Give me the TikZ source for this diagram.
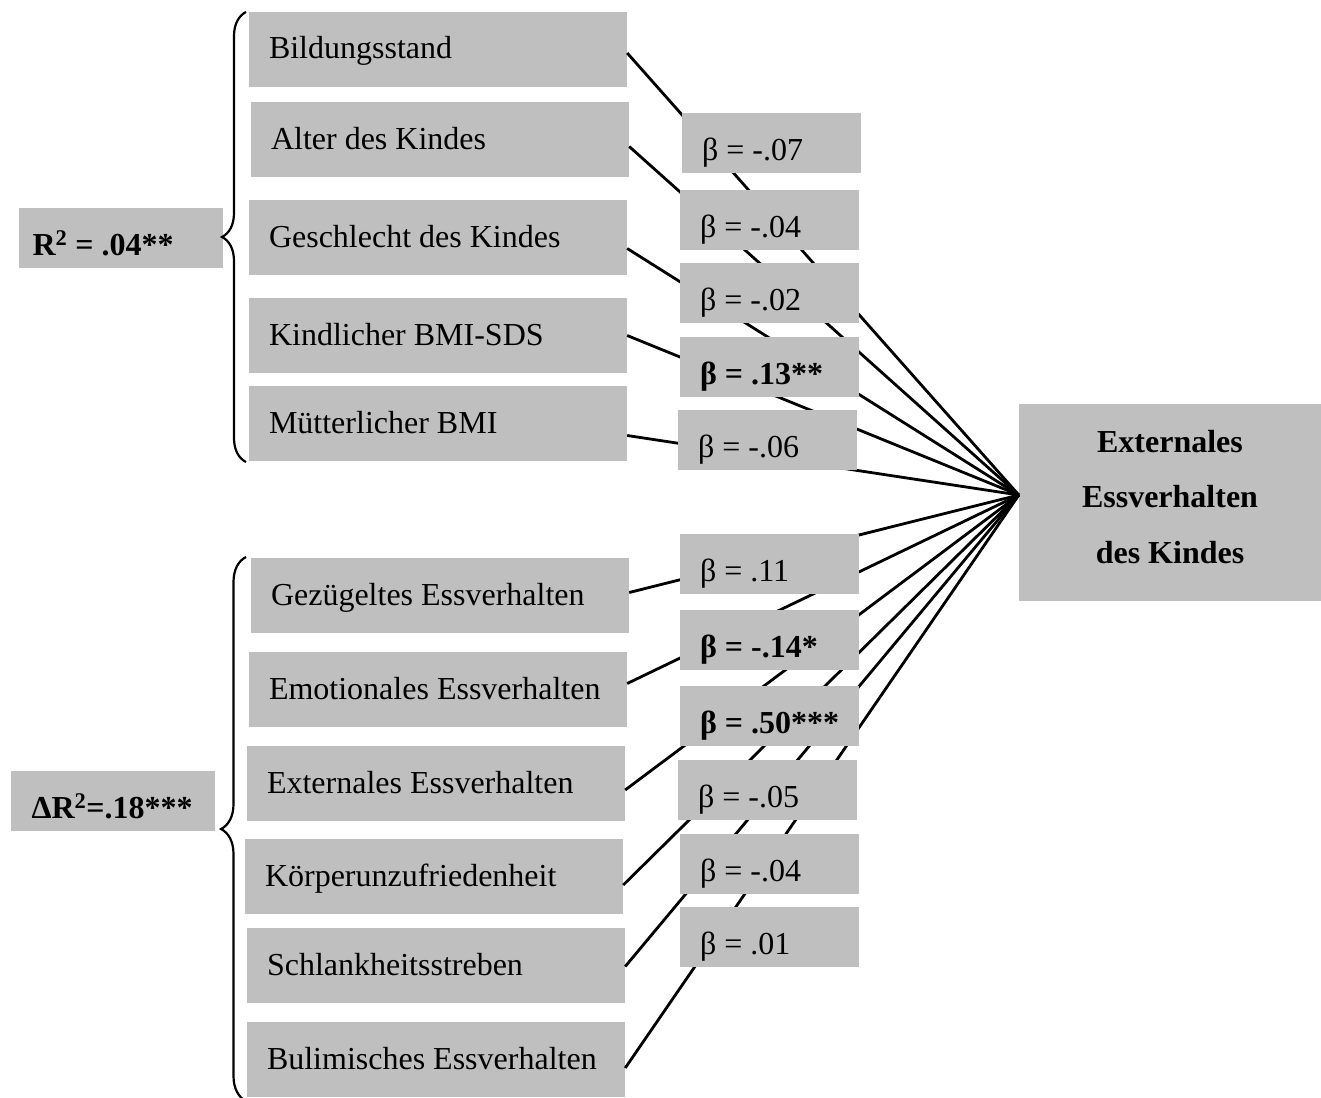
\documentclass[tikz,border=0pt]{standalone}
\usepackage{fontspec}
\setmainfont{Liberation Serif}
\usetikzlibrary{decorations.pathreplacing}
\definecolor{boxgray}{RGB}{191,191,191}
\begin{document}
\begin{tikzpicture}[x=1pt,y=-1pt,
  natural spaces/.style={execute at begin node={\spaceskip=0pt\xspaceskip=0pt}},
  box/.style={fill=boxgray, inner sep=0pt, font=\fontsize{32}{38}\selectfont, align=left, natural spaces},
  predbox/.style={box, minimum width=378pt, minimum height=75pt, text width=338pt, text height=26pt, text depth=7pt},
  betabox/.style={box, minimum width=179pt, minimum height=60pt, text width=139pt, text height=40pt, text depth=6pt},
  rbox/.style={box, minimum width=204pt, minimum height=60pt, text height=40pt, text depth=6pt},
  link/.style={line width=2.8pt},
  sidebrace/.style={decorate, decoration={brace, amplitude=#1}, line width=2.2pt},
]
\fill[white] (0,0) rectangle (1321,1097);
\useasboundingbox (0,0) rectangle (1321,1097);

% first block of predictors
\node[predbox] (bil)  at (438,49.5)  {Bildungsstand};
\node[predbox] (alt)  at (440,139.5) {Alter des Kindes};
\node[predbox] (ges)  at (438,237.5) {Geschlecht des Kindes};
\node[predbox] (kbmi) at (438,335.5) {Kindlicher BMI-SDS};
\node[predbox] (mbmi) at (438,423.5) {Mütterlicher BMI};

% second block of predictors
\node[predbox] (gez) at (440,595.5)  {Gezügeltes Essverhalten};
\node[predbox] (emo) at (438,689.5)  {Emotionales Essverhalten};
\node[predbox] (ext) at (436,783.5)  {Externales Essverhalten};
\node[predbox] (koe) at (434,876.5)  {Körperunzufriedenheit};
\node[predbox] (sch) at (436,965.5)  {Schlankheitsstreben};
\node[predbox] (bul) at (436,1059.5) {Bulimisches Essverhalten};

% explained variance of each block
\node[rbox, text width=176pt] (rsq)  at (120.5,238) {\textbf{R\textsuperscript{2} = .04**}};
\node[rbox, text width=162pt] (drsq) at (112.5,801) {\textbf{ΔR\textsuperscript{2}=.18***}};

% braces grouping the blocks
\draw[sidebrace=24pt] (246,462) -- (246,12);
\draw[sidebrace=25pt] (246,1101) -- (246,557);

% outcome
\node[box, minimum width=302pt, minimum height=197pt] (tgt) at (1170,502.5) {};
\node[inner sep=0pt, align=center, natural spaces, font=\fontsize{32}{55.5}\selectfont\bfseries] (tgtlabel) at (1170,497)
  {Externales\\Essverhalten\\des Kindes};
\coordinate (hub) at ([yshift=7.5pt]tgt.west);

% paths from every predictor to the outcome
\foreach \n/\dy in {bil/-3.5pt, alt/-7pt, ges/-11pt, kbmi/0pt, mbmi/-12pt,
                    gez/3pt, emo/6pt, ext/-6.5pt, koe/-8.5pt, sch/-1pt, bul/-8.5pt}
  \draw[link] ([yshift=\dy]\n.east) -- (hub);

% standardised coefficients
\node[betabox] (b1)  at (771.5,143) {β = -.07};
\node[betabox] (b2)  at (769.5,220) {β = -.04};
\node[betabox] (b3)  at (769.5,293) {β = -.02};
\node[betabox] (b4)  at (769.5,367) {\mbox{\textbf{β = .13**}}};
\node[betabox] (b5)  at (767.5,440) {β = -.06};
\node[betabox] (b6)  at (769.5,564) {β = .11};
\node[betabox] (b7)  at (769.5,640) {\mbox{\textbf{β = -.14*}}};
\node[betabox] (b8)  at (769.5,716) {\mbox{\textbf{β = .50***}}};
\node[betabox] (b9)  at (767.5,790) {β = -.05};
\node[betabox] (b10) at (769.5,864) {β = -.04};
\node[betabox] (b11) at (769.5,937) {β = .01};
\end{tikzpicture}
\end{document}
